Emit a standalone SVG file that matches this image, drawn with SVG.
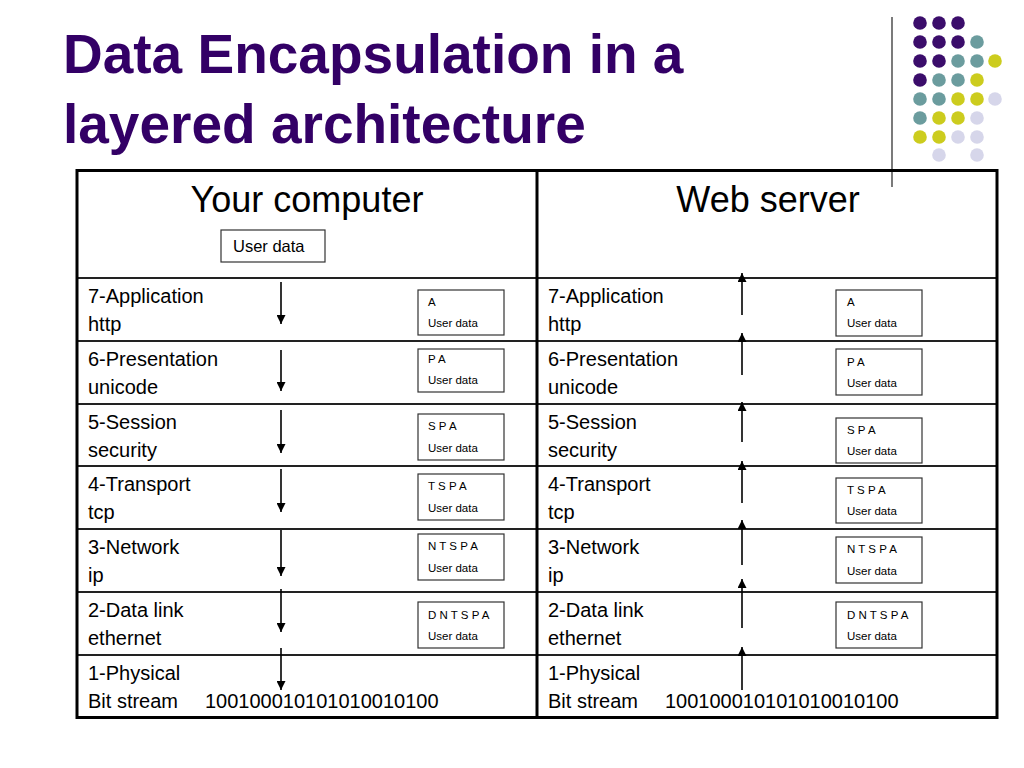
<svg xmlns="http://www.w3.org/2000/svg" width="1024" height="768" viewBox="0 0 1024 768">
<defs>
<style>
.title{font-family:"Liberation Sans",Arial,sans-serif;font-weight:bold;font-size:55px;fill:#330066}
.hdr{font-family:"Liberation Sans",Arial,sans-serif;font-size:36px;fill:#000;text-anchor:middle}
.lbl{font-family:"Liberation Sans",Arial,sans-serif;font-size:20px;fill:#000}
.ud{font-family:"Liberation Sans",Arial,sans-serif;font-size:16.5px;fill:#000}
.sm{font-family:"Liberation Sans",Arial,sans-serif;font-size:11.5px;fill:#000}
.box{fill:#fff;stroke:#333;stroke-width:1.2}
.rowline{stroke:#222;stroke-width:2}
.frame{fill:none;stroke:#000;stroke-width:3}
.arr{stroke:#000;stroke-width:1.6;fill:none;marker-end:url(#ah)}
.pu{fill:#3B0D6B}.te{fill:#6B9C9E}.ye{fill:#CCCC1E}.la{fill:#D6D6EA}
</style>
<marker id="ah" viewBox="0 0 10 10" refX="10" refY="5" markerWidth="9" markerHeight="9" markerUnits="userSpaceOnUse" orient="auto">
<path d="M0,0 L10,5 L0,10 z" fill="#000"/>
</marker>
</defs>
<rect width="1024" height="768" fill="#fff"/>

<g id="title">
<text class="title" x="63" y="73">Data Encapsulation in a</text>
<text class="title" x="63" y="143">layered architecture</text>
</g>

<g id="decoration">
<line x1="892" y1="17" x2="892" y2="187" stroke="#222" stroke-width="1.2"/>
<circle class="pu" cx="920" cy="23" r="6.8"/><circle class="pu" cx="939" cy="23" r="6.8"/><circle class="pu" cx="958" cy="23" r="6.8"/>
<circle class="pu" cx="920" cy="42" r="6.8"/><circle class="pu" cx="939" cy="42" r="6.8"/><circle class="pu" cx="958" cy="42" r="6.8"/><circle class="te" cx="977" cy="42" r="6.8"/>
<circle class="pu" cx="920" cy="61" r="6.8"/><circle class="pu" cx="939" cy="61" r="6.8"/><circle class="te" cx="958" cy="61" r="6.8"/><circle class="te" cx="977" cy="61" r="6.8"/><circle class="ye" cx="995" cy="61" r="6.8"/>
<circle class="pu" cx="920" cy="80" r="6.8"/><circle class="te" cx="939" cy="80" r="6.8"/><circle class="te" cx="958" cy="80" r="6.8"/><circle class="ye" cx="977" cy="80" r="6.8"/>
<circle class="te" cx="920" cy="99" r="6.8"/><circle class="te" cx="939" cy="99" r="6.8"/><circle class="ye" cx="958" cy="99" r="6.8"/><circle class="ye" cx="977" cy="99" r="6.8"/><circle class="la" cx="995" cy="99" r="6.8"/>
<circle class="te" cx="920" cy="118" r="6.8"/><circle class="ye" cx="939" cy="118" r="6.8"/><circle class="ye" cx="958" cy="118" r="6.8"/><circle class="la" cx="977" cy="118" r="6.8"/>
<circle class="ye" cx="920" cy="137" r="6.8"/><circle class="ye" cx="939" cy="137" r="6.8"/><circle class="la" cx="958" cy="137" r="6.8"/><circle class="la" cx="977" cy="137" r="6.8"/>
<circle class="la" cx="939" cy="155" r="6.8"/><circle class="la" cx="977" cy="155" r="6.8"/>
</g>

<g id="table">
<line class="rowline" x1="77" y1="278" x2="997" y2="278"/>
<line class="rowline" x1="77" y1="341" x2="997" y2="341"/>
<line class="rowline" x1="77" y1="404" x2="997" y2="404"/>
<line class="rowline" x1="77" y1="466" x2="997" y2="466"/>
<line class="rowline" x1="77" y1="529" x2="997" y2="529"/>
<line class="rowline" x1="77" y1="592" x2="997" y2="592"/>
<line class="rowline" x1="77" y1="655" x2="997" y2="655"/>
<rect class="frame" x="77" y="170.5" width="920" height="547"/>
<line x1="537" y1="170" x2="537" y2="718" stroke="#000" stroke-width="3"/>
</g>

<g id="your-computer">
<text class="hdr" x="307" y="212">Your computer</text>
<rect class="box" x="221" y="230" width="104" height="32"/>
<text class="ud" x="233" y="252">User data</text>
<text class="lbl" x="88" y="303">7-Application</text><text class="lbl" x="88" y="331">http</text>
<text class="lbl" x="88" y="366">6-Presentation</text><text class="lbl" x="88" y="394">unicode</text>
<text class="lbl" x="88" y="429">5-Session</text><text class="lbl" x="88" y="457">security</text>
<text class="lbl" x="88" y="491">4-Transport</text><text class="lbl" x="88" y="519">tcp</text>
<text class="lbl" x="88" y="554">3-Network</text><text class="lbl" x="88" y="582">ip</text>
<text class="lbl" x="88" y="617">2-Data link</text><text class="lbl" x="88" y="645">ethernet</text>
<text class="lbl" x="88" y="680">1-Physical</text><text class="lbl" x="88" y="708">Bit stream</text>
<text class="lbl" x="205" y="708">100100010101010010100</text>
</g>

<g id="left-packets">
<rect class="box" x="418" y="290" width="86" height="45"/><text class="sm" x="428" y="306">A</text><text class="sm" x="428" y="327">User data</text>
<rect class="box" x="418" y="349" width="86" height="43"/><text class="sm" x="428" y="363">P A</text><text class="sm" x="428" y="384">User data</text>
<rect class="box" x="418" y="414" width="86" height="46"/><text class="sm" x="428" y="430">S P A</text><text class="sm" x="428" y="452">User data</text>
<rect class="box" x="418" y="474" width="86" height="46"/><text class="sm" x="428" y="490">T S P A</text><text class="sm" x="428" y="512">User data</text>
<rect class="box" x="418" y="534" width="86" height="46"/><text class="sm" x="428" y="550">N T S P A</text><text class="sm" x="428" y="572">User data</text>
<rect class="box" x="418" y="602" width="86" height="46"/><text class="sm" x="428" y="619">D N T S P A</text><text class="sm" x="428" y="640">User data</text>
</g>

<g id="web-server">
<text class="hdr" x="768" y="212">Web server</text>
<text class="lbl" x="548" y="303">7-Application</text><text class="lbl" x="548" y="331">http</text>
<text class="lbl" x="548" y="366">6-Presentation</text><text class="lbl" x="548" y="394">unicode</text>
<text class="lbl" x="548" y="429">5-Session</text><text class="lbl" x="548" y="457">security</text>
<text class="lbl" x="548" y="491">4-Transport</text><text class="lbl" x="548" y="519">tcp</text>
<text class="lbl" x="548" y="554">3-Network</text><text class="lbl" x="548" y="582">ip</text>
<text class="lbl" x="548" y="617">2-Data link</text><text class="lbl" x="548" y="645">ethernet</text>
<text class="lbl" x="548" y="680">1-Physical</text><text class="lbl" x="548" y="708">Bit stream</text>
<text class="lbl" x="665" y="708">100100010101010010100</text>
</g>

<g id="right-packets">
<rect class="box" x="836" y="290" width="86" height="46"/><text class="sm" x="847" y="306">A</text><text class="sm" x="847" y="327">User data</text>
<rect class="box" x="836" y="349" width="86" height="46"/><text class="sm" x="847" y="366">P A</text><text class="sm" x="847" y="387">User data</text>
<rect class="box" x="836" y="418" width="86" height="45"/><text class="sm" x="847" y="434">S P A</text><text class="sm" x="847" y="455">User data</text>
<rect class="box" x="836" y="478" width="86" height="45"/><text class="sm" x="847" y="494">T S P A</text><text class="sm" x="847" y="515">User data</text>
<rect class="box" x="836" y="537" width="86" height="46"/><text class="sm" x="847" y="553">N T S P A</text><text class="sm" x="847" y="575">User data</text>
<rect class="box" x="836" y="602" width="86" height="46"/><text class="sm" x="847" y="619">D N T S P A</text><text class="sm" x="847" y="640">User data</text>
</g>

<g id="connectors">
<line class="arr" x1="281" y1="282" x2="281" y2="324"/>
<line class="arr" x1="281" y1="350" x2="281" y2="391"/>
<line class="arr" x1="281" y1="410" x2="281" y2="453"/>
<line class="arr" x1="281" y1="469" x2="281" y2="512"/>
<line class="arr" x1="281" y1="530" x2="281" y2="576"/>
<line class="arr" x1="281" y1="589" x2="281" y2="632"/>
<line class="arr" x1="281" y1="648" x2="281" y2="690"/>
<line class="arr" x1="742" y1="315" x2="742" y2="273"/>
<line class="arr" x1="742" y1="375" x2="742" y2="333"/>
<line class="arr" x1="742" y1="442" x2="742" y2="402"/>
<line class="arr" x1="742" y1="503" x2="742" y2="461"/>
<line class="arr" x1="742" y1="565" x2="742" y2="520"/>
<line class="arr" x1="742" y1="628" x2="742" y2="579"/>
<line class="arr" x1="742" y1="690" x2="742" y2="647"/>
</g>
</svg>
